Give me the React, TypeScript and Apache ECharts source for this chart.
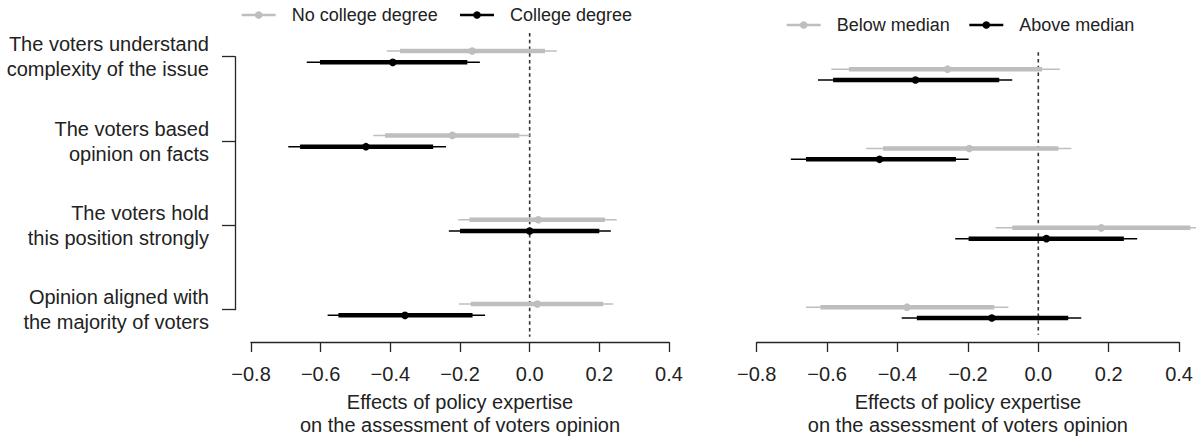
import React, { useEffect, useRef } from "react";
import * as echarts from "echarts";

// Row labels (top to bottom)
const rowLabels = [
  "The voters understand\ncomplexity of the issue",
  "The voters based\nopinion on facts",
  "The voters hold\nthis position strongly",
  "Opinion aligned with\nthe majority of voters",
];
const rows = [1, 2, 3, 4];
const xTicks = [-0.8, -0.6, -0.4, -0.2, 0.0, 0.2, 0.4];
const axisTitle = "Effects of policy expertise\non the assessment of voters opinion";

// Each entry: [estimate, lo90, hi90, lo95, hi95]
const noCollege = [
  [-0.165, -0.372, 0.044, -0.41, 0.078],
  [-0.222, -0.415, -0.03, -0.449, 0.0],
  [0.025, -0.173, 0.216, -0.205, 0.25],
  [0.022, -0.169, 0.211, -0.203, 0.24],
];
const college = [
  [-0.393, -0.602, -0.179, -0.64, -0.143],
  [-0.47, -0.659, -0.277, -0.693, -0.24],
  [0.0, -0.2, 0.2, -0.232, 0.233],
  [-0.358, -0.549, -0.164, -0.58, -0.128],
];
const belowMedian = [
  [-0.258, -0.538, 0.011, -0.588, 0.061],
  [-0.196, -0.441, 0.057, -0.489, 0.094],
  [0.179, -0.074, 0.432, -0.121, 0.479],
  [-0.373, -0.619, -0.125, -0.66, -0.085],
];
const aboveMedian = [
  [-0.349, -0.583, -0.111, -0.626, -0.074],
  [-0.451, -0.66, -0.234, -0.703, -0.198],
  [0.023, -0.198, 0.243, -0.236, 0.281],
  [-0.132, -0.345, 0.085, -0.388, 0.122],
];

const GRAY = "#bebebe";
const BLACK = "#000000";
const AXIS = "#262626";
const FONT = "Liberation Sans, Arial, Helvetica, sans-serif";

function ciSeries(vals: number[][], color: string, gridIndex: number, dy: number) {
  return {
    type: "custom",
    xAxisIndex: gridIndex,
    yAxisIndex: gridIndex,
    clip: false,
    data: vals.map((v, i) => [rows[i], v[0], v[1], v[2], v[3], v[4]]),
    renderItem: (params: any, api: any) => {
      const y = api.value(0) + dy;
      const est = api.coord([api.value(1), y]);
      const l90 = api.coord([api.value(2), y]);
      const h90 = api.coord([api.value(3), y]);
      const l95 = api.coord([api.value(4), y]);
      const h95 = api.coord([api.value(5), y]);
      return {
        type: "group",
        children: [
          { type: "line", shape: { x1: l95[0], y1: l95[1], x2: h95[0], y2: h95[1] }, style: { stroke: color, lineWidth: 1.5 } },
          { type: "line", shape: { x1: l90[0], y1: l90[1], x2: h90[0], y2: h90[1] }, style: { stroke: color, lineWidth: 4.5 } },
          { type: "circle", shape: { cx: est[0], cy: est[1], r: 3.8 }, style: { fill: color } },
        ],
      };
    },
  };
}

function zeroLine(gridIndex: number, yTop: number, yBottom: number) {
  return {
    type: "custom",
    xAxisIndex: gridIndex,
    yAxisIndex: gridIndex,
    clip: false,
    silent: true,
    data: [[0]],
    renderItem: (params: any, api: any) => {
      const a = api.coord([api.value(0), yTop]);
      const b = api.coord([api.value(0), yBottom]);
      return {
        type: "line",
        shape: { x1: a[0], y1: a[1], x2: b[0], y2: b[1] },
        style: { stroke: "#333333", lineWidth: 1.6, lineDash: [3.5, 3.2] },
      };
    },
  };
}

function xAxisDef(gridIndex: number, offset: number) {
  return {
    type: "value",
    gridIndex,
    min: xTicks[0],
    max: xTicks[xTicks.length - 1],
    interval: 0.2,
    offset,
    splitLine: { show: false },
    axisLine: { show: true, onZero: false, lineStyle: { color: AXIS, width: 1.3 } },
    axisTick: { show: true, length: 10, lineStyle: { color: AXIS, width: 1.3 } },
    axisLabel: {
      show: true,
      margin: 22,
      fontSize: 20,
      fontFamily: FONT,
      color: "#222",
      formatter: (v: number) => v.toFixed(1).replace("-", "\u2212"),
    },
    name: axisTitle,
    nameLocation: "middle",
    nameGap: 48,
    nameTextStyle: { fontSize: 20, fontFamily: FONT, color: "#222", lineHeight: 23 },
  };
}

function legendItems(x: number, y: number, color: string, text: string) {
  return [
    { type: "line", shape: { x1: x, y1: y, x2: x + 34, y2: y }, style: { stroke: color, lineWidth: 2.5 } },
    { type: "circle", shape: { cx: x + 17, cy: y, r: 3.8 }, style: { fill: color } },
    {
      type: "text",
      x: x + 50,
      y,
      style: { text, fontSize: 18, fontFamily: FONT, fill: "#222", verticalAlign: "middle", align: "left" },
    },
  ];
}

export default function App() {
  const ref = useRef<HTMLDivElement>(null);
  useEffect(() => {
    if (!ref.current) return;
    const chart = echarts.init(ref.current, undefined, { renderer: "svg" });
    chart.setOption({
      animation: false,
      backgroundColor: "#ffffff",
      grid: [
        { left: 251, width: 418, top: 56.7, height: 254 },
        { left: 756.7, width: 424, top: 74.5, height: 240 },
      ],
      xAxis: [xAxisDef(0, 32.3), xAxisDef(1, 29.5)],
      yAxis: [
        {
          type: "value",
          gridIndex: 0,
          min: 1,
          max: 4,
          interval: 1,
          inverse: true,
          offset: 16,
          splitLine: { show: false },
          axisLine: { show: true, onZero: false, lineStyle: { color: AXIS, width: 1.3 } },
          axisTick: { show: true, length: 13, lineStyle: { color: AXIS, width: 1.3 } },
          axisLabel: {
            show: true,
            margin: 26,
            fontSize: 20,
            lineHeight: 25,
            fontFamily: FONT,
            color: "#222",
            align: "right",
            formatter: (v: number) => rowLabels[Math.round(v) - 1] ?? "",
          },
        },
        {
          type: "value",
          gridIndex: 1,
          min: 1,
          max: 4,
          interval: 1,
          inverse: true,
          show: false,
        },
      ],
      graphic: [
        ...legendItems(241.7, 15, GRAY, "No college degree"),
        ...legendItems(460, 15, BLACK, "College degree"),
        ...legendItems(786.7, 25, GRAY, "Below median"),
        ...legendItems(969.3, 25, BLACK, "Above median"),
      ],
      series: [
        zeroLine(0, 0.72, 4.32),
        zeroLine(1, 0.72, 4.28),
        ciSeries(noCollege, GRAY, 0, -0.067),
        ciSeries(college, BLACK, 0, 0.067),
        ciSeries(belowMedian, GRAY, 1, -0.067),
        ciSeries(aboveMedian, BLACK, 1, 0.069),
      ],
    });
    return () => chart.dispose();
  }, []);
  return (
    <div
      ref={ref}
      style={{ position: "absolute", left: 0, top: 0, width: 1196, height: 441, background: "#fff" }}
    />
  );
}
